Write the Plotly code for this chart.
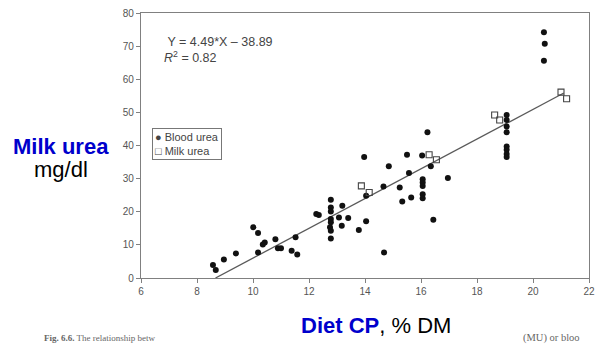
import plotly.graph_objects as go

# ---- data ----
blood_x = [8.57, 8.67, 8.96, 9.39, 10.01, 10.18, 10.18, 10.35, 10.42, 10.80, 10.89, 11.00,
           11.38, 11.58, 11.52, 12.26, 12.35,
           12.78, 12.78, 12.78, 12.78, 12.78, 12.75, 12.78, 12.78,
           13.19, 13.07, 13.17, 13.40, 13.78, 14.04, 14.04, 13.97, 14.66, 14.68, 14.85,
           15.24, 15.33, 15.50, 15.57, 15.65, 16.04,
           16.06, 16.06, 16.06, 16.06, 16.06,
           16.23, 16.35, 16.44, 16.96,
           19.06, 19.06, 19.06, 19.06, 19.06, 19.06, 19.06, 19.06,
           20.39, 20.42, 20.39]
blood_y = [3.9, 2.4, 5.6, 7.4, 15.3, 13.6, 7.7, 10.1, 10.7, 11.7, 9.0, 9.0,
           8.2, 7.1, 12.3, 19.3, 19.0,
           23.6, 21.3, 20.1, 17.8, 16.8, 15.3, 14.3, 11.9,
           21.8, 18.3, 15.8, 18.1, 14.5, 17.1, 24.8, 36.5, 27.6, 7.7, 33.7,
           27.3, 23.1, 37.2, 31.7, 24.3, 37.0,
           29.8, 28.8, 27.8, 25.3, 24.1,
           44.0, 33.7, 17.6, 30.2,
           49.2, 47.7, 45.7, 44.0, 39.7, 38.7, 37.4, 36.5,
           74.2, 70.7, 65.6]

milk_x = [13.87, 14.15, 16.29, 16.55, 18.63, 18.81, 21.00, 21.20]
milk_y = [27.8, 25.8, 37.2, 35.7, 49.2, 47.7, 56.1, 54.1]

slope = 4.49
intercept = -38.89
fit_x = [8.66, 21.1]
fit_y = [slope * v + intercept for v in fit_x]

x_ticks = [6, 8, 10, 12, 14, 16, 18, 20, 22]
y_ticks = [0, 10, 20, 30, 40, 50, 60, 70, 80]

FONT = "Liberation Sans, Arial, sans-serif"
GREY = "#555555"

fig = go.Figure()
fig.add_trace(go.Scatter(x=fit_x, y=fit_y, mode="lines",
                         line=dict(color="#5a5a5a", width=1.3), showlegend=False,
                         hoverinfo="skip"))
fig.add_trace(go.Scatter(x=blood_x, y=blood_y, mode="markers", name="Blood urea",
                         marker=dict(symbol="circle", size=6, color="#111111"),
                         showlegend=False))
fig.add_trace(go.Scatter(x=milk_x, y=milk_y, mode="markers", name="Milk urea",
                         marker=dict(symbol="square-open", size=6, color="#444444",
                                     line=dict(width=1.1)),
                         showlegend=False))

axis_common = dict(showgrid=False, zeroline=False, showline=True, mirror=True,
                   linecolor="#808080", linewidth=1.2, ticks="outside", ticklen=4,
                   tickcolor="#808080", tickfont=dict(family=FONT, size=10, color=GREY))

fig.update_xaxes(range=[6, 22], tickvals=x_ticks, ticktext=[str(v) for v in x_ticks],
                 **axis_common)
fig.update_yaxes(range=[0, 80], tickvals=y_ticks, ticktext=[str(v) for v in y_ticks],
                 **axis_common)

annotations = [
    dict(text="\u00a0Y = 4.49*X \u2013 38.89<br><i>R</i><sup>2</sup> = 0.82",
         xref="paper", yref="paper", x=0.046, y=0.925, xanchor="left", yanchor="top",
         showarrow=False, align="left", font=dict(family=FONT, size=12.5, color="#444")),
    dict(text="\u25cf Blood urea<br>\u25a1 Milk urea",
         xref="paper", yref="paper", x=0.024, y=0.567, xanchor="left", yanchor="top",
         showarrow=False, align="left", bordercolor="#777", borderwidth=1, borderpad=2,
         bgcolor="white", font=dict(family=FONT, size=11, color="#444")),
    dict(text="<b>Milk urea</b>", xref="paper", yref="paper", x=-0.178, y=0.496,
         xanchor="center", yanchor="middle", showarrow=False,
         font=dict(family=FONT, size=22, color="#0000CC")),
    dict(text="mg/dl", xref="paper", yref="paper", x=-0.178, y=0.41,
         xanchor="center", yanchor="middle", showarrow=False,
         font=dict(family=FONT, size=22, color="black")),
    dict(text="<b><span style='color:#0000CC'>Diet CP</span></b>, % DM",
         xref="paper", yref="paper", x=0.524, y=-0.179,
         xanchor="center", yanchor="middle", showarrow=False,
         font=dict(family=FONT, size=22, color="black")),
    dict(text="<b>Fig. 6.6.</b> The relationship betw", xref="paper", yref="paper",
         x=-0.222, y=-0.228, xanchor="left", yanchor="middle", showarrow=False,
         font=dict(family="Liberation Serif, serif", size=9, color="#666")),
    dict(text="(MU) or bloo", xref="paper", yref="paper",
         x=0.849, y=-0.228, xanchor="left", yanchor="middle", showarrow=False,
         font=dict(family="Liberation Serif, serif", size=10.5, color="#666")),
]

fig.update_layout(width=602, height=345, margin=dict(l=141, r=7, t=10, b=67),
                  paper_bgcolor="white", plot_bgcolor="white", showlegend=False,
                  annotations=annotations, font=dict(family=FONT))

# remove the browser's default 8 px body margin so the figure sits at the page corner
fig.write_html("out.html", config={"displayModeBar": False},
               post_script="document.body.style.margin='0';")
